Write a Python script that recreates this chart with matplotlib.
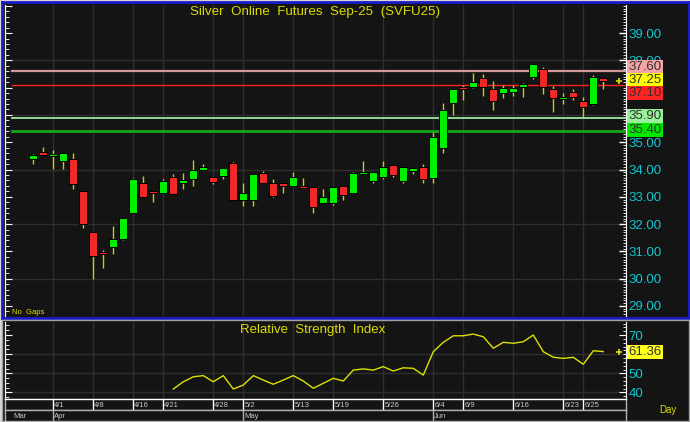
import numpy as np
import matplotlib
matplotlib.use("Agg")
import matplotlib.pyplot as plt
from matplotlib.ticker import MultipleLocator, FixedLocator, FuncFormatter
from matplotlib.transforms import blended_transform_factory

plt.rcParams["font.family"] = ["Liberation Sans", "DejaVu Sans"]

W, H = 690, 422

# daily OHLC, candle index 1..58
opens = [34.40, 34.65, 34.51, 34.32, 34.38, 33.21, 31.71, 30.98, 31.17, 31.45,
         32.40, 33.49, 33.21, 33.13, 33.71, 33.49, 33.64, 34.00, 33.71, 33.76,
         34.23, 32.88, 32.88, 33.86, 33.52, 33.49, 33.40, 33.41, 33.35, 32.78,
         32.78, 33.40, 33.15, 33.82, 33.58, 33.71, 34.16, 33.59, 33.96, 34.08,
         33.68, 34.80, 36.42, 37.03, 37.01, 37.34, 36.95, 36.79, 36.83, 37.01,
         37.38, 37.67, 36.95, 36.57, 36.84, 36.50, 36.40, 37.34]
highs = [34.55, 34.84, 34.71, 34.62, 34.59, 33.21, 31.71, 31.05, 31.94, 32.21,
         33.70, 33.76, 33.21, 33.65, 33.84, 33.86, 34.35, 34.19, 33.71, 34.04,
         34.26, 33.49, 33.82, 33.95, 33.64, 33.49, 33.92, 33.70, 33.35, 33.29,
         33.35, 33.40, 33.90, 34.33, 33.90, 34.33, 34.16, 34.08, 34.04, 34.20,
         35.39, 36.42, 36.95, 37.10, 37.52, 37.50, 37.24, 37.10, 37.10, 37.16,
         37.86, 37.74, 37.06, 36.79, 36.94, 36.67, 37.46, 37.34]
lows = [34.20, 34.53, 34.02, 34.02, 33.29, 31.85, 29.98, 30.38, 30.90, 31.42,
        32.40, 32.99, 32.82, 33.13, 33.09, 33.29, 33.40, 34.00, 33.46, 33.64,
        32.88, 32.66, 32.66, 33.52, 32.98, 33.13, 33.40, 33.31, 32.40, 32.78,
        32.70, 32.87, 33.15, 33.82, 33.49, 33.65, 33.74, 33.52, 33.82, 33.52,
        33.52, 34.59, 36.00, 36.55, 36.97, 36.70, 36.18, 36.61, 36.70, 36.67,
        37.32, 36.77, 36.10, 36.40, 36.55, 35.93, 36.36, 36.94]
closes = [34.53, 34.53, 34.57, 34.62, 33.46, 32.00, 30.84, 30.90, 31.45, 32.21,
          33.65, 32.99, 33.13, 33.58, 33.09, 33.63, 34.00, 34.10, 33.55, 34.04,
          32.88, 33.15, 33.82, 33.52, 33.03, 33.41, 33.71, 33.31, 32.64, 32.98,
          33.35, 33.07, 33.86, 33.92, 33.90, 34.08, 33.80, 34.08, 34.04, 33.64,
          35.18, 36.18, 36.95, 36.96, 37.22, 37.03, 36.51, 37.00, 37.00, 37.12,
          37.86, 37.03, 36.63, 36.67, 36.67, 36.30, 37.38, 37.25]

# RSI starts at candle 15
rsi_start = 15
rsi = [41.8, 45.6, 48.2, 48.8, 45.6, 48.8, 41.8, 43.9, 48.8, 46.5,
       44.3, 46.5, 48.8, 46.0, 42.2, 44.8, 47.4, 46.0, 51.7, 52.3,
       51.7, 53.5, 51.2, 52.9, 52.6, 49.1, 61.3, 66.2, 69.6, 69.6,
       70.5, 69.1, 63.1, 66.2, 65.7, 66.5, 70.0, 61.3, 58.4, 57.8,
       58.4, 54.7, 61.8, 61.36]

date_idx = [3, 7, 11, 14, 19, 22, 27, 31, 36, 41, 44, 49, 54, 56]
date_lbl = ["4/1", "4/8", "4/16", "4/21", "4/28", "5/2", "5/13", "5/19",
            "5/26", "6/4", "6/9", "6/16", "6/23", "6/25"]
month_idx = [3, 22, 41]
month_lbl = ["Apr", "May", "Jun"]

price_ticks = [29, 30, 31, 32, 33, 34, 35, 38, 39]   # 36/37 sit under the boxes
rsi_ticks = [40, 50, 70]                             # 60 sits under the box

level_vals = [37.60, 37.10, 35.90, 35.40]
level_colors = ["#d09a9a", "#ff2020", "#96d896", "#14a814"]
level_widths = [1.6, 1.0, 1.4, 2.0]

# right-hand value boxes (text, box colour, y position of box)
box_text = ["37.60", "37.25", "37.10", "35.90", "35.40"]
box_colors = ["#f4a4a4", "#ffff00", "#ff2424", "#98f098", "#00e800"]
box_y = [37.75, 37.28, 36.80, 35.96, 35.45]
last_price = 37.25
last_rsi = 61.36

DARK = "#141414"
GRID = "#2e2e2e"
CYAN = "#10c8d0"
YEL = "#dcdc00"
XLIM = (-1.83, 60.27)


def px_rect(x0, y0, x1, y1):
    return [x0 / W, 1 - y1 / H, (x1 - x0) / W, (y1 - y0) / H]


def blank(a, edge, lw=1):
    a.set_facecolor(DARK)
    a.set_xticks([])
    a.set_yticks([])
    for s in a.spines.values():
        s.set_color(edge)
        s.set_linewidth(lw)


fig = plt.figure(figsize=(W / 100, H / 100), dpi=100)
fig.patch.set_facecolor("#d8d8d8")

# panel backgrounds
bg1 = fig.add_axes(px_rect(1.5, 1.5, 688.5, 317.5))
blank(bg1, "#1c1cc8", 2)
bg2 = fig.add_axes(px_rect(1.5, 320, 688.5, 421))
blank(bg2, "#a0a0a0", 1)

# ---- price panel ----
ax = fig.add_axes(px_rect(5, 5, 626, 316))
ax.set_facecolor(DARK)
ax.set_xlim(*XLIM)
ax.set_ylim(28.63, 40.03)

x = np.arange(1, len(opens) + 1)
o = np.array(opens); c = np.array(closes)
up = c >= o
body_lo = np.minimum(o, c)
body_h = np.maximum(np.abs(c - o), 0.07)

ax.vlines(x, lows, highs, color="#c8c820", lw=1, zorder=3)
ax.bar(x, body_h, bottom=body_lo, width=0.8,
       color=np.where(up, "#00f000", "#f02828"), edgecolor="#000000",
       linewidth=0.7, zorder=4)

for v, col, lw in zip(level_vals, level_colors, level_widths):
    ax.axhline(v, xmin=0.012, xmax=1, color=col, lw=lw, zorder=2)

for i in date_idx:
    ax.axvline(i, color=GRID, lw=1, zorder=0)
for v in [30, 32, 34, 36, 38]:
    ax.axhline(v, color=GRID, lw=1, zorder=0)

for s in ["top", "bottom"]:
    ax.spines[s].set_visible(False)
ax.spines["right"].set_color("white")
ax.spines["left"].set_color("white")
ax.set_xticks([])
ax.yaxis.tick_right()
ax.yaxis.set_major_locator(FixedLocator(price_ticks))
ax.yaxis.set_minor_locator(MultipleLocator(0.1))
ax.yaxis.set_major_formatter(FuncFormatter(lambda v, p: f"{v:.2f}"))
ax.tick_params(axis="y", which="major", direction="in", length=5, width=1,
               color="white", labelcolor=CYAN, labelsize=9.5, pad=2)
ax.tick_params(axis="y", which="minor", direction="in", length=2,
               color="white")
sec = ax.secondary_yaxis("left")
sec.yaxis.set_major_locator(MultipleLocator(1))
sec.yaxis.set_minor_locator(MultipleLocator(0.2))
sec.tick_params(which="major", direction="in", length=5, color="white",
                labelleft=False)
sec.tick_params(which="minor", direction="in", length=3, color="white")
sec.spines["left"].set_color("white")

tr = blended_transform_factory(ax.transAxes, ax.transData)
for t, fc, y in zip(box_text, box_colors, box_y):
    ax.text(1.004, y, t, transform=tr, fontsize=9.5, color="#303030",
            va="center", ha="left", zorder=10,
            bbox=dict(boxstyle="square,pad=0.08", fc=fc, ec="none"))
ax.plot([59.6], [last_price], marker="+", color=YEL, ms=5, mew=1.2,
        clip_on=False, zorder=6)

ax.text(0.5, 0.977, "Silver  Online  Futures  Sep-25  (SVFU25)",
        transform=ax.transAxes, ha="center", va="center", color=YEL,
        fontsize=9.6)
fig.text(12 / W, 1 - 312 / H, "No  Gaps", color=YEL, fontsize=5.5,
         va="center", ha="left")

# ---- RSI panel ----
rx = fig.add_axes(px_rect(5, 322, 626, 399))
rx.set_facecolor(DARK)
rx.set_xlim(*XLIM)
rx.set_ylim(36.6, 76.8)
rx_x = np.arange(rsi_start, rsi_start + len(rsi))
rx.plot(rx_x, rsi, color="#e0e000", lw=1, zorder=3)
for i in date_idx:
    rx.axvline(i, color=GRID, lw=1, zorder=0)
for v in [40, 50, 60]:
    rx.axhline(v, color=GRID, lw=1, zorder=0)
rx.spines["top"].set_visible(False)
rx.spines["bottom"].set_color("white")
rx.spines["right"].set_color("white")
rx.spines["left"].set_color("white")
rx.set_xticks([])
rx.yaxis.tick_right()
rx.yaxis.set_major_locator(FixedLocator(rsi_ticks))
rx.yaxis.set_minor_locator(MultipleLocator(2))
rx.tick_params(axis="y", which="major", direction="in", length=5,
               color="white", labelcolor=CYAN, labelsize=9.5, pad=2)
rx.tick_params(axis="y", which="minor", direction="in", length=2,
               color="white")
rsec = rx.secondary_yaxis("left")
rsec.yaxis.set_major_locator(MultipleLocator(10))
rsec.yaxis.set_minor_locator(MultipleLocator(2.5))
rsec.tick_params(which="major", direction="in", length=5, color="white",
                 labelleft=False)
rsec.tick_params(which="minor", direction="in", length=3, color="white")
rsec.spines["left"].set_color("white")

rtr = blended_transform_factory(rx.transAxes, rx.transData)
rx.text(1.004, last_rsi, f"{last_rsi:.2f}", transform=rtr, fontsize=9.5,
        color="#303030", va="center", ha="left", zorder=10,
        bbox=dict(boxstyle="square,pad=0.08", fc="#ffff20", ec="none"))
rx.plot([59.6], [last_rsi], marker="+", color=YEL, ms=5, mew=1.2,
        clip_on=False, zorder=6)
rx.text(0.495, 0.9, "Relative  Strength  Index", transform=rx.transAxes,
        ha="center", va="center", color=YEL, fontsize=9.5)

# ---- date rows ----
drow = fig.add_axes(px_rect(5, 399, 626, 410))
blank(drow, "#b0b0b0")
drow.spines["top"].set_color("white")
drow.set_xlim(*XLIM)
drow.set_ylim(0, 1)
for i, lbl in zip(date_idx, date_lbl):
    drow.axvline(i, color="white", lw=1)
    drow.text(i + 0.1, 0.42, lbl, color="#c8c8c8", fontsize=5.5,
              va="center", ha="left")

mrow = fig.add_axes(px_rect(5, 410, 626, 421))
blank(mrow, "#b0b0b0")
mrow.set_xlim(*XLIM)
mrow.set_ylim(0, 1)
mrow.text(-0.95, 0.45, "Mar", color="#c8c8c8", fontsize=5.5, va="center",
          ha="left")
for i, lbl in zip(month_idx, month_lbl):
    mrow.axvline(i, color="#b0b0b0", lw=1)
    mrow.text(i + 0.1, 0.45, lbl, color="#c8c8c8", fontsize=5.5,
              va="center", ha="left")

fig.text(668 / W, 1 - 410 / H, "Day", color=YEL, fontsize=7, ha="center",
         va="center")

fig.savefig("out.png", dpi=100, facecolor=fig.get_facecolor())
